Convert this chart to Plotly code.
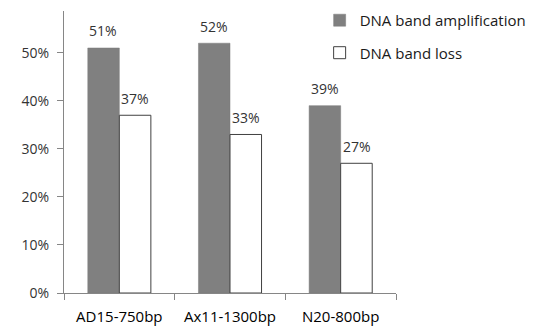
import plotly.graph_objects as go

categories = ["AD15-750bp", "Ax11-1300bp", "N20-800bp"]
amplification = [0.51, 0.52, 0.39]
loss = [0.37, 0.33, 0.27]
series_names = ["DNA band amplification", "DNA band loss"]
y_ticks = [0, 0.1, 0.2, 0.3, 0.4, 0.5]
y_tick_labels = ["0%", "10%", "20%", "30%", "40%", "50%"]

font_color = "#333333"
axis_color = "#868686"
fam = "Open Sans, Noto Sans, sans-serif"

fig = go.Figure()
fig.add_trace(go.Bar(
    x=categories, y=amplification, name=series_names[0],
    marker=dict(color="#808080", line=dict(color="#7a7a7a", width=0.5)),
    legendgroup="a",
))
fig.add_trace(go.Bar(
    x=categories, y=loss, name=series_names[1],
    marker=dict(color="#ffffff", line=dict(color="#404040", width=1)),
    legendgroup="b",
))

annotations = []
for series, shift in ((amplification, -16), (loss, 16)):
    for cat, v in zip(categories, series):
        annotations.append(dict(
            x=cat, y=v, xref="x", yref="y", text=f"{round(v*100)}%",
            showarrow=False, xshift=shift, yshift=17, yanchor="middle",
            font=dict(family=fam, size=14, color=font_color),
        ))

# page body has an 8px margin, so size/margins compensate for it
fig.update_layout(
    width=529, height=320,
    margin=dict(l=56, r=141, t=3, b=35, autoexpand=False),
    paper_bgcolor="white", plot_bgcolor="white",
    font=dict(family=fam, size=13, color=font_color),
    barmode="group", bargap=0.43, bargroupgap=0,
    showlegend=True,
    annotations=annotations,
    legend=dict(x=0.77, y=1.025, xanchor="left", yanchor="top",
                font=dict(family=fam, size=15, color="#1a1a1a"),
                bgcolor="rgba(0,0,0,0)", tracegroupgap=10,
                traceorder="grouped", itemwidth=30),
    xaxis=dict(
        type="category", showline=True, linecolor=axis_color, linewidth=1,
        ticks="outside", tickson="boundaries", ticklen=6, tickcolor=axis_color,
        ticklabelstandoff=10,
        showgrid=False, tickfont=dict(family=fam, size=15, color="#000000"),
    ),
    yaxis=dict(
        range=[0, 0.587], tickvals=y_ticks, ticktext=y_tick_labels,
        showline=True, linecolor=axis_color, linewidth=1,
        ticks="outside", ticklen=6, tickcolor=axis_color,
        ticklabelstandoff=5,
        showgrid=False, zeroline=False, tickfont=dict(family=fam, size=14, color=font_color),
    ),
)

fig.write_html("out.html")
